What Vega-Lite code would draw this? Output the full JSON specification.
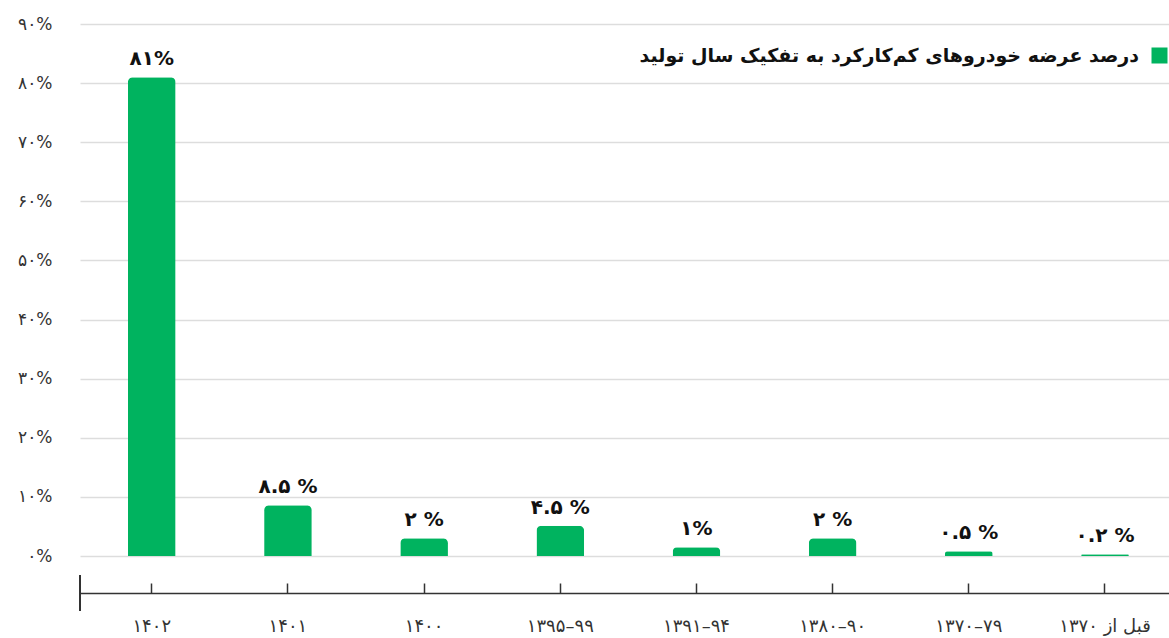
{
  "$schema": "https://vega.github.io/schema/vega-lite/v6.json",
  "autosize": {"type": "none"},
  "width": 1089,
  "height": 532,
  "padding": {"left": 80, "top": 24, "right": 0, "bottom": 82},
  "background": "#ffffff",
  "config": {
    "view": {"stroke": null},
    "font": "DejaVu Sans"
  },
  "data": {
    "values": [
      {"period": "۱۴۰۲", "value": 81, "label": "۸۱%"},
      {"period": "۱۴۰۱", "value": 8.6, "label": "۸.۵ %"},
      {"period": "۱۴۰۰", "value": 3.0, "label": "۲ %"},
      {"period": "۱۳۹۵–۹۹", "value": 5.1, "label": "۴.۵ %"},
      {"period": "۱۳۹۱–۹۴", "value": 1.5, "label": "۱%"},
      {"period": "۱۳۸۰–۹۰", "value": 3.0, "label": "۲ %"},
      {"period": "۱۳۷۰–۷۹", "value": 0.8, "label": "۰.۵ %"},
      {"period": "قبل از ۱۳۷۰", "value": 0.3, "label": "۰.۲ %"}
    ]
  },
  "resolve": {"scale": {"x": "independent"}},
  "layer": [
    {
      "encoding": {
        "x": {
          "field": "period", "type": "nominal", "sort": null,
          "scale": {"paddingInner": 0.65, "paddingOuter": 0.3235, "align": 0.544},
          "axis": {
            "title": null, "labelAngle": 0, "offset": 37,
            "domainColor": "#333333", "domainWidth": 1.5,
            "tickColor": "#333333", "tickWidth": 1.5, "tickSize": -10,
            "labelFontSize": 18, "labelColor": "#333333", "labelPadding": 34,
            "labelBaseline": "top"
          }
        },
        "y": {
          "field": "value", "type": "quantitative",
          "scale": {"domain": [0, 90], "nice": false},
          "axis": {
            "title": null, "values": [0, 10, 20, 30, 40, 50, 60, 70, 80, 90],
            "labelExpr": "['۰%','۱۰%','۲۰%','۳۰%','۴۰%','۵۰%','۶۰%','۷۰%','۸۰%','۹۰%'][round(datum.value/10)]",
            "domain": false, "ticks": false, "labelPadding": 28,
            "labelFontSize": 17, "labelColor": "#333333",
            "gridColor": "#dddddd", "gridWidth": 1.5
          }
        }
      },
      "layer": [
        {
          "mark": {"type": "bar", "cornerRadiusTopLeft": 5, "cornerRadiusTopRight": 5},
          "encoding": {
            "color": {
              "datum": "درصد عرضه خودروهای کم‌کارکرد به تفکیک سال تولید",
              "scale": {"range": ["#00b35f"]},
              "legend": {
                "title": null, "orient": "none", "legendX": 1070, "legendY": 22,
                "symbolType": "square", "symbolSize": 256, "symbolStrokeWidth": 0,
                "labelAlign": "right", "labelOffset": -30, "labelLimit": 0,
                "labelFontSize": 19, "labelFontWeight": "bold", "labelColor": "#111111"
              }
            }
          }
        },
        {
          "mark": {"type": "text", "baseline": "alphabetic", "dy": -12, "fontSize": 20, "fontWeight": "bold", "color": "#111111"},
          "encoding": {"text": {"field": "label"}}
        }
      ]
    },
    {
      "mark": {"type": "rule", "color": "#333333", "strokeWidth": 1.5},
      "encoding": {
        "x": {"datum": 0, "type": "quantitative", "scale": {"domain": [0, 1]}, "axis": null},
        "y": {"datum": -3.2, "type": "quantitative", "scale": {"domain": [0, 90], "nice": false}},
        "y2": {"datum": -9.3}
      }
    }
  ]
}
